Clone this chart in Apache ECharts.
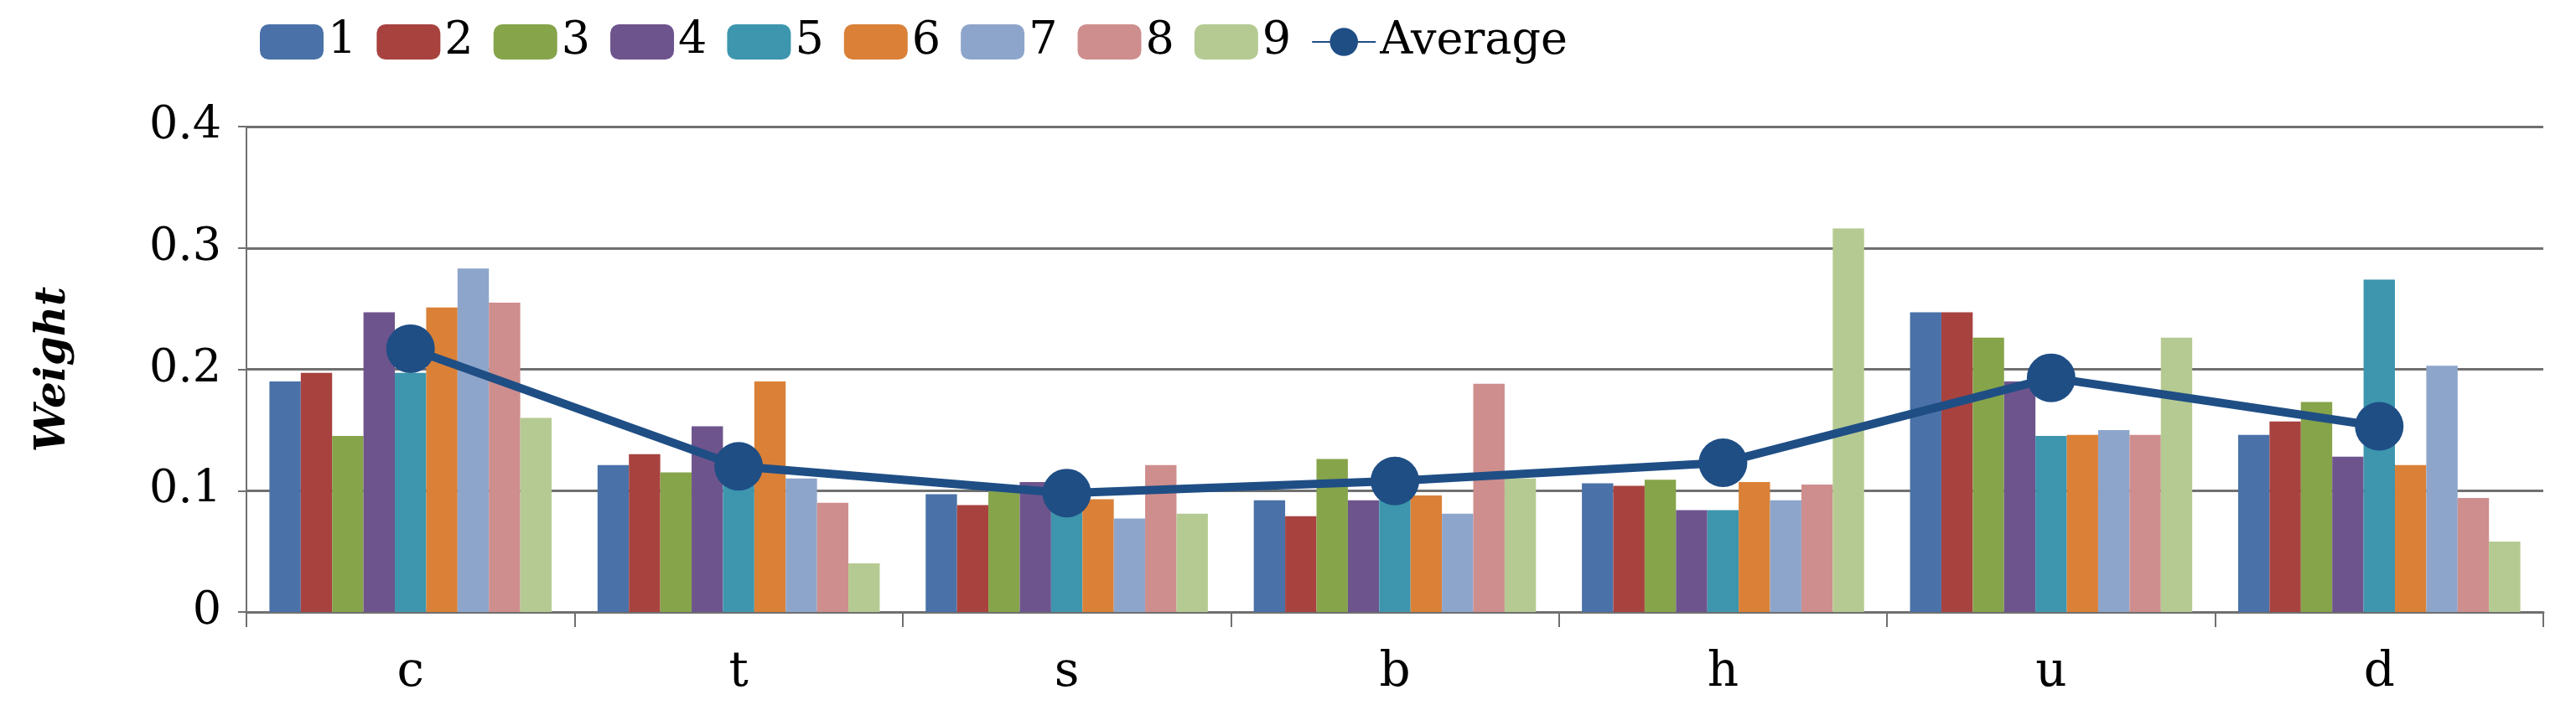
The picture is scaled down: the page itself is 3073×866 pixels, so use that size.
<!DOCTYPE html>
<html>
<head>
<meta charset="utf-8">
<script src="https://cdn.jsdelivr.net/npm/echarts@6/dist/echarts.min.js"></script>
<style>html,body{margin:0;background:#fff}#chart{width:3073px;height:866px}</style>
</head>
<body>
<div id="chart"></div>
<script>
// 数据
const categories = ['c', 't', 's', 'b', 'h', 'u', 'd'];
const seriesNames = ['1', '2', '3', '4', '5', '6', '7', '8', '9'];
const s1 = [0.190, 0.121, 0.097, 0.092, 0.106, 0.247, 0.146];
const s2 = [0.197, 0.130, 0.088, 0.079, 0.104, 0.247, 0.157];
const s3 = [0.145, 0.115, 0.100, 0.126, 0.109, 0.226, 0.173];
const s4 = [0.247, 0.153, 0.107, 0.092, 0.084, 0.190, 0.128];
const s5 = [0.197, 0.120, 0.100, 0.100, 0.084, 0.145, 0.274];
const s6 = [0.251, 0.190, 0.093, 0.096, 0.107, 0.146, 0.121];
const s7 = [0.283, 0.110, 0.077, 0.081, 0.092, 0.150, 0.203];
const s8 = [0.255, 0.090, 0.121, 0.188, 0.105, 0.146, 0.094];
const s9 = [0.160, 0.040, 0.081, 0.110, 0.316, 0.226, 0.058];
const average = [0.217, 0.120, 0.098, 0.108, 0.123, 0.193, 0.153];
const yTicks = [0, 0.1, 0.2, 0.3, 0.4];

const barData = [s1, s2, s3, s4, s5, s6, s7, s8, s9];
const colors = ['#4a72a8', '#a8423f', '#86a44a', '#6e548d', '#3d96ae', '#da8137', '#8ea5cb', '#ce8e8d', '#b5ca92'];
const font = '"DejaVu Serif", "Liberation Serif", serif';

const chart = echarts.init(document.getElementById('chart'), null, { renderer: 'canvas' });
chart.setOption({
    textStyle: { fontFamily: font, color: '#000' },
    animation: false,
    legend: {
        top: 18,
        left: 305,
        itemWidth: 76,
        itemHeight: 42,
        itemGap: 24,
        textStyle: { fontFamily: font, fontSize: 54, color: '#000' },
        data: seriesNames.concat(['Average']),
    },
    grid: { left: 294, right: 39, top: 151, bottom: 136 },
    xAxis: {
        type: 'category',
        data: categories,
        axisLine: { lineStyle: { color: '#707070', width: 3 } },
        axisTick: { show: true, length: 18, lineStyle: { color: '#707070', width: 2 } },
        axisLabel: { fontFamily: font, fontSize: 58, color: '#000', margin: 44 },
    },
    yAxis: {
        type: 'value',
        min: 0, max: 0.4, interval: 0.1,
        name: 'Weight',
        nameLocation: 'middle',
        nameGap: 205,
        nameTextStyle: { fontFamily: font, fontSize: 50, fontWeight: 'bold', fontStyle: 'italic', color: '#000' },
        axisLine: { show: true, lineStyle: { color: '#707070', width: 2 } },
        axisTick: { show: true, length: 10, lineStyle: { color: '#707070', width: 2 } },
        splitLine: { lineStyle: { color: '#707070', width: 3 } },
        axisLabel: {
            fontFamily: font, fontSize: 54, color: '#000', margin: 30,
            formatter: v => yTicks.includes(+v.toFixed(1)) ? String(+v.toFixed(1)) : '',
        },
    },
    series: barData.map((d, i) => ({
        name: seriesNames[i],
        type: 'bar',
        data: d,
        barGap: '0%',
        barCategoryGap: '14%',
        itemStyle: { color: colors[i] },
    })).concat([{
        name: 'Average',
        type: 'line',
        data: average,
        symbol: 'circle',
        symbolSize: 58,
        z: 10,
        lineStyle: { color: '#1f4e85', width: 10 },
        itemStyle: { color: '#1f4e85' },
    }]),
});
</script>
</body>
</html>
